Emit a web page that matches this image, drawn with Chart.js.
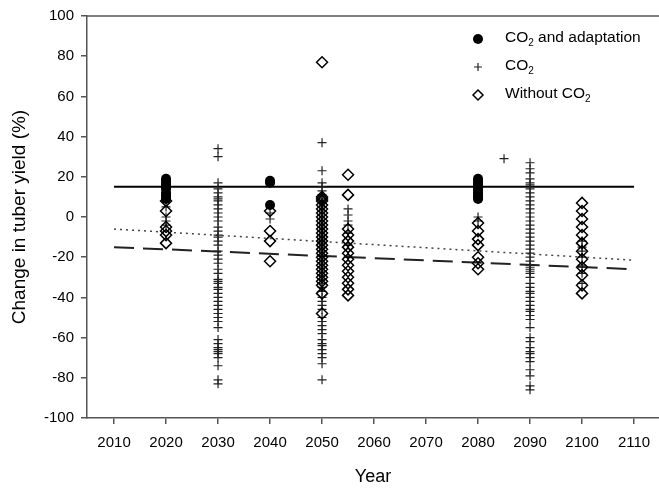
<!DOCTYPE html>
<html><head><meta charset="utf-8">
<script src="https://cdn.jsdelivr.net/npm/chart.js@4"></script>
<style>html,body{margin:0;padding:0;background:#fff;} #wrap{width:659px;height:488px;}</style>
</head><body><div id="wrap"><canvas id="c" width="659" height="488"></canvas></div>
<script>
// Tick labels
const xTicks = [2010, 2020, 2030, 2040, 2050, 2060, 2070, 2080, 2090, 2100, 2110];
const yTicks = [-100, -80, -60, -40, -20, 0, 20, 40, 60, 80, 100];

// CO2 and adaptation (filled circles)
const adapt2020 = [19, 18, 17, 16, 15, 14, 12, 11, 10, 9];
const adapt2040 = [18, 17, 6];
const adapt2080 = [19, 18, 17, 16, 15, 14, 13, 12, 11, 10, 9];

// CO2 (plus)
const co2_2020 = [5, 0, -2, -4];
const co2_2030 = [34, 30, 17, 14, 12, 10, 9, 8, 6, 4, 2, 0, -2, -5, -7, -9, -10, -12, -14, -17, -19, -21, -23, -26, -28, -31, -32, -33, -35, -36, -38, -40, -42, -44, -46, -48, -50, -52, -55, -61, -63, -65, -66, -67, -68, -70, -74, -81, -83];
const co2_2040 = [2, -1];
const co2_2050 = [37, 23, 17, 15, 13, 11, 9, 7, 5, 3, 1, -1, -3, -5, -7, -9, -11, -13, -15, -17, -19, -21, -23, -25, -27, -29, -31, -33, -35, -37, -40, -42, -44, -46, -50, -52, -54, -56, -58, -61, -63, -64, -66, -68, -70, -73, -81];
const co2_2055 = [4, 1, -2, -4, -8, -14, -20];
const co2_2080 = [0, -2];
const co2_2085 = [29];
const co2_2090 = [27, 24, 22, 19, 17, 16, 14, 12, 10, 8, 6, 4, 2, 0, -2, -4, -6, -8, -10, -12, -14, -16, -18, -20, -22, -24, -25, -26, -27, -28, -30, -33, -35, -37, -38, -40, -42, -44, -46, -47, -49, -51, -55, -60, -62, -65, -67, -68, -70, -72, -76, -79, -84, -86];
const co2_2100 = [-12, -15, -17, -20, -24, -28, -33];

// Without CO2 (open diamonds)
const without2020 = [8, 3, -5, -7, -9, -13];
const without2040 = [3, -7, -12, -22];
const without2050 = [77, 10, 9, 8, 6, 4, 2, 0, -2, -4, -6, -8, -10, -12, -14, -16, -18, -20, -22, -24, -26, -28, -30, -32, -34, -38, -48];
const without2055 = [21, 11, -6, -9, -12, -15, -18, -21, -24, -27, -30, -33, -36, -39];
const without2080 = [-3, -7, -11, -14, -20, -23, -26];
const without2100 = [7, 3, -1, -5, -9, -13, -17, -21, -25, -29, -34, -38];

// Trend lines
const trendYears = [2010, 2110];
const trendAdapt = [15, 15];
const trendCO2 = [-6, -21.5];
const trendWithout = [-15, -26];

const pts = (year, arr) => arr.map(v => ({x: year, y: v}));
const line = (ys) => trendYears.map((x, i) => ({x: x, y: ys[i]}));

const adaptPts = [].concat(pts(2020, adapt2020), pts(2040, adapt2040), pts(2080, adapt2080));
const co2Pts = [].concat(pts(2020, co2_2020), pts(2030, co2_2030), pts(2040, co2_2040), pts(2050, co2_2050),
  pts(2055, co2_2055), pts(2080, co2_2080), pts(2085, co2_2085), pts(2090, co2_2090), pts(2100, co2_2100));
const withoutPts = [].concat(pts(2020, without2020), pts(2040, without2040), pts(2050, without2050),
  pts(2055, without2055), pts(2080, without2080), pts(2100, without2100));

const FONT = "'Liberation Sans', Arial, sans-serif";

const framePlugin = {
  id: 'frame',
  afterDraw(chart) {
    const ctx = chart.ctx, a = chart.chartArea;
    ctx.save();
    ctx.strokeStyle = '#555';
    ctx.lineWidth = 1.5;
    ctx.beginPath();
    ctx.moveTo(a.left, a.top);
    ctx.lineTo(a.right, a.top);
    ctx.stroke();
    // legend
    const mx = 478, tx = 505;
    const rows = [
      {y: 38, parts: ['CO', '2', ' and adaptation']},
      {y: 66, parts: ['CO', '2', '']},
      {y: 94, parts: ['Without CO', '2', '']}
    ];
    ctx.fillStyle = '#000';
    ctx.beginPath(); ctx.arc(mx, 39, 5, 0, Math.PI * 2); ctx.fill();
    ctx.strokeStyle = '#222'; ctx.lineWidth = 1.2;
    ctx.beginPath(); ctx.moveTo(mx - 4, 67); ctx.lineTo(mx + 4, 67); ctx.moveTo(mx, 63); ctx.lineTo(mx, 71); ctx.stroke();
    ctx.strokeStyle = '#000'; ctx.lineWidth = 1.5;
    ctx.beginPath(); ctx.moveTo(mx, 90); ctx.lineTo(mx + 5, 95); ctx.lineTo(mx, 100); ctx.lineTo(mx - 5, 95); ctx.closePath(); ctx.stroke();
    ctx.fillStyle = '#000';
    ctx.textBaseline = 'middle';
    ctx.textAlign = 'left';
    rows.forEach(r => {
      let x = tx;
      ctx.font = '15.5px ' + FONT;
      ctx.fillText(r.parts[0], x, r.y);
      x += ctx.measureText(r.parts[0]).width;
      ctx.font = '10px ' + FONT;
      ctx.fillText(r.parts[1], x, r.y + 5);
      x += ctx.measureText(r.parts[1]).width;
      ctx.font = '15.5px ' + FONT;
      if (r.parts[2]) ctx.fillText(r.parts[2], x, r.y);
    });
    ctx.restore();
  }
};

new Chart(document.getElementById('c'), {
  type: 'scatter',
  data: {
    datasets: [
      {label: 'CO2 and adaptation', data: adaptPts, pointStyle: 'circle', pointRadius: 5,
        backgroundColor: '#000', borderColor: '#000', borderWidth: 0},
      {label: 'Without CO2', data: withoutPts, pointStyle: 'rectRot', pointRadius: 5.5,
        backgroundColor: 'rgba(0,0,0,0)', borderColor: '#000', borderWidth: 1.5},
      {label: 'CO2', data: co2Pts, pointStyle: 'cross', pointRadius: 4.5,
        backgroundColor: '#222', borderColor: '#222', borderWidth: 1.2},
      {type: 'line', label: 'trendA', data: line(trendAdapt), borderColor: '#000', borderWidth: 2,
        pointRadius: 0, fill: false},
      {type: 'line', label: 'trendC', data: line(trendCO2), borderColor: '#444', borderWidth: 1.5,
        borderDash: [2, 4], pointRadius: 0, fill: false},
      {type: 'line', label: 'trendW', data: line(trendWithout), borderColor: '#222', borderWidth: 2,
        borderDash: [20, 9], pointRadius: 0, fill: false}
    ]
  },
  options: {
    responsive: false,
    animation: false,
    devicePixelRatio: 1,
    layout: {autoPadding: false, padding: {top: 16, right: 0, bottom: 0, left: 0}},
    plugins: {legend: {display: false}, tooltip: {enabled: false}},
    scales: {
      x: {
        type: 'linear', min: 2004.8, max: 2114.8,
        afterBuildTicks: s => { s.ticks = xTicks.map(v => ({value: v})); },
        afterFit: s => { s.height = 70; s.paddingRight = 0; s.paddingLeft = 0; },
        grid: {display: true, drawOnChartArea: false, tickLength: 6, color: '#555', lineWidth: 1.5},
        border: {display: true, color: '#555', width: 1.5},
        ticks: {color: '#000', font: {family: FONT, size: 15}, padding: 10, maxRotation: 0,
          callback: v => String(v)},
        title: {display: true, text: 'Year', color: '#000', font: {family: FONT, size: 18},
          padding: {top: 14, bottom: 0}}
      },
      y: {
        type: 'linear', min: -100, max: 100,
        afterBuildTicks: s => { s.ticks = yTicks.map(v => ({value: v})); },
        afterFit: s => { s.width = 87; },
        grid: {display: true, drawOnChartArea: false, tickLength: 6, color: '#555', lineWidth: 1.5},
        border: {display: true, color: '#555', width: 1.5},
        ticks: {color: '#000', font: {family: FONT, size: 15}, padding: 7},
        title: {display: true, text: 'Change in tuber yield (%)', color: '#000',
          font: {family: FONT, size: 19}, padding: {top: 8, bottom: 0}}
      }
    }
  },
  plugins: [framePlugin]
});
</script>
</body></html>
